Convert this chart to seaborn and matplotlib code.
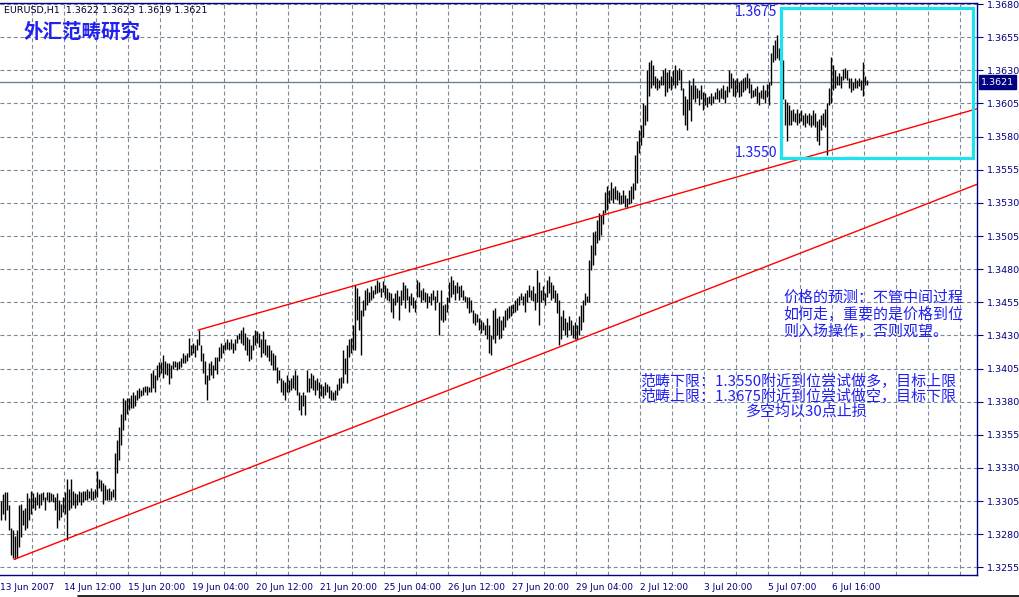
import numpy as np
import pandas as pd
import matplotlib
matplotlib.use("Agg")
import matplotlib.pyplot as plt
import seaborn as sns
from matplotlib.patches import Rectangle

# ---------------- data (prices in pips, 1 pip = 0.0001) ----------------
high_pips = [
    13305,13310,13312,13312,13302,13285,13283,13279,13283,13302,13303,13298,13300,13311,13307,13313,
    13311,13308,13312,13310,13311,13312,13308,13312,13312,13311,13310,13308,13311,13306,13303,13308,
    13312,13322,13314,13322,13313,13311,13310,13313,13312,13313,13313,13314,13313,13315,13313,13314,
    13328,13322,13321,13319,13317,13314,13315,13313,13314,13341,13351,13361,13371,13383,13381,13383,
    13383,13385,13387,13385,13389,13390,13389,13391,13392,13392,13391,13402,13404,13400,13408,13410,
    13410,13415,13411,13409,13409,13408,13411,13411,13410,13411,13413,13417,13415,13417,13428,13423,
    13424,13423,13427,13434,13423,13417,13411,13400,13409,13411,13408,13414,13414,13421,13424,13423,
    13425,13427,13425,13427,13424,13427,13430,13432,13434,13436,13432,13429,13427,13423,13430,13434,
    13433,13432,13427,13433,13427,13423,13423,13419,13417,13415,13406,13404,13398,13396,13395,13400,
    13396,13398,13400,13404,13400,13387,13385,13387,13385,13404,13398,13402,13400,13396,13398,13395,
    13393,13392,13395,13393,13392,13389,13387,13389,13393,13398,13399,13419,13413,13423,13427,13428,
    13438,13468,13466,13460,13449,13457,13464,13466,13463,13467,13464,13468,13472,13470,13466,13471,
    13468,13466,13463,13462,13458,13462,13464,13460,13464,13470,13468,13466,13460,13462,13459,13457,
    13472,13470,13464,13466,13463,13462,13460,13462,13464,13460,13464,13455,13464,13453,13454,13459,
    13470,13475,13472,13468,13470,13467,13468,13464,13460,13459,13459,13457,13449,13447,13446,13443,
    13442,13440,13438,13443,13438,13430,13449,13451,13443,13445,13442,13445,13449,13451,13452,13453,
    13454,13457,13458,13460,13462,13460,13462,13464,13468,13464,13467,13462,13479,13470,13464,13467,
    13462,13472,13475,13470,13468,13464,13462,13457,13445,13449,13443,13440,13445,13442,13438,13440,
    13438,13445,13453,13457,13462,13460,13487,13498,13508,13509,13517,13522,13521,13525,13538,13543,
    13540,13546,13541,13543,13540,13538,13536,13540,13536,13534,13540,13543,13545,13566,13577,13585,
    13589,13605,13604,13630,13636,13638,13634,13626,13624,13623,13626,13630,13632,13629,13630,13626,
    13630,13634,13630,13632,13630,13617,13611,13608,13623,13619,13624,13619,13617,13615,13619,13614,
    13613,13610,13611,13613,13611,13614,13617,13615,13617,13619,13615,13618,13630,13628,13624,13623,
    13624,13621,13623,13624,13625,13628,13624,13620,13615,13617,13618,13614,13615,13619,13615,13620,
    13621,13643,13649,13653,13657,13647,13645,13638,13608,13606,13604,13600,13601,13598,13601,13598,
    13600,13596,13598,13596,13598,13596,13600,13598,13592,13593,13596,13598,13601,13605,13617,13640,
    13634,13630,13626,13628,13626,13631,13632,13630,13624,13624,13621,13624,13623,13624,13623,13636,13626,13623,
]
low_pips = [
    13291,13295,13291,13298,13283,13264,13262,13261,13262,13270,13278,13287,13283,13285,13291,13295,
    13300,13298,13302,13300,13302,13306,13298,13306,13304,13305,13304,13298,13285,13291,13293,13297,
    13295,13276,13298,13300,13302,13300,13302,13304,13302,13304,13306,13306,13307,13306,13306,13307,
    13308,13315,13313,13303,13306,13306,13306,13306,13308,13306,13326,13336,13347,13359,13366,13371,
    13374,13375,13375,13377,13381,13383,13384,13385,13387,13385,13387,13387,13390,13387,13396,13399,
    13402,13398,13401,13400,13393,13398,13405,13406,13404,13405,13406,13409,13409,13411,13414,13415,
    13417,13414,13419,13423,13411,13402,13393,13381,13396,13400,13398,13404,13401,13411,13413,13417,
    13419,13420,13419,13420,13417,13419,13424,13427,13424,13423,13419,13415,13411,13412,13419,13423,
    13424,13421,13414,13417,13415,13414,13411,13408,13404,13404,13394,13396,13387,13385,13381,13387,
    13387,13389,13390,13389,13385,13374,13370,13377,13370,13387,13387,13390,13389,13385,13389,13383,
    13384,13383,13385,13387,13383,13381,13381,13381,13385,13389,13390,13394,13401,13394,13414,13417,
    13419,13419,13442,13434,13415,13445,13449,13453,13455,13457,13458,13461,13462,13463,13459,13463,
    13458,13457,13456,13448,13443,13453,13455,13442,13453,13457,13451,13457,13448,13453,13451,13448,
    13459,13459,13455,13457,13455,13451,13455,13453,13457,13449,13455,13430,13442,13440,13442,13448,
    13455,13459,13461,13457,13462,13457,13459,13457,13455,13451,13447,13448,13439,13438,13440,13434,
    13432,13434,13430,13427,13417,13415,13427,13424,13430,13427,13428,13434,13436,13442,13443,13445,
    13447,13448,13449,13453,13457,13453,13448,13455,13459,13457,13456,13449,13455,13438,13455,13457,
    13453,13459,13462,13457,13458,13455,13447,13423,13427,13434,13430,13429,13434,13430,13428,13427,
    13427,13430,13434,13440,13453,13455,13455,13479,13483,13491,13500,13502,13506,13514,13522,13525,
    13530,13532,13530,13533,13532,13529,13529,13530,13527,13526,13529,13530,13533,13540,13545,13568,
    13574,13580,13589,13592,13611,13617,13619,13617,13615,13617,13619,13619,13611,13614,13617,13615,
    13619,13617,13619,13623,13615,13596,13589,13585,13600,13592,13608,13606,13609,13604,13608,13600,
    13604,13602,13605,13604,13605,13608,13608,13606,13609,13608,13605,13610,13614,13617,13611,13610,
    13614,13610,13611,13614,13615,13617,13613,13609,13610,13611,13605,13604,13609,13608,13605,13610,
    13604,13619,13636,13638,13639,13638,13626,13608,13589,13577,13589,13589,13592,13591,13589,13590,
    13592,13589,13587,13590,13589,13587,13589,13587,13577,13574,13585,13589,13587,13566,13604,13605,
    13615,13617,13619,13619,13617,13623,13624,13623,13617,13614,13615,13617,13617,13618,13615,13611,13619,13619,
]

time_labels = ["13 Jun 2007", "14 Jun 12:00", "15 Jun 20:00", "19 Jun 04:00", "20 Jun 12:00",
               "21 Jun 20:00", "25 Jun 04:00", "26 Jun 12:00", "27 Jun 20:00", "29 Jun 04:00",
               "2 Jul 12:00", "3 Jul 20:00", "5 Jul 07:00", "6 Jul 16:00"]
price_ticks = [1.3255, 1.3280, 1.3305, 1.3330, 1.3355, 1.3380, 1.3405, 1.3430, 1.3455,
               1.3480, 1.3505, 1.3530, 1.3555, 1.3580, 1.3605, 1.3630, 1.3655, 1.3680]
last_price = 1.3621
header_quote = "EURUSD,H1  1.3622 1.3623 1.3619 1.3621"

# trend lines (bar index, price)
upper_x = [98.5, 488.0]
upper_y = [1.3434, 1.3601]
lower_x = [6.5, 488.0]
lower_y = [1.3261, 1.3544]

# range box (bar index, price)
box_x = [390.0, 486.0]
box_y = [1.3564, 1.3677]

title_cn = "外汇范畴研究"
note1 = ["价格的预测：不管中间过程", "如何走，重要的是价格到位", "则入场操作，否则观望。"]
note2 = ["范畴下限：1.3550附近到位尝试做多，目标上限", "范畴上限：1.3675附近到位尝试做空，目标下限"]
note3 = "多空均以30点止损"

# ---------------- figure ----------------
sns.set_style("white")
plt.rcParams["font.family"] = ["DejaVu Sans", "Noto Sans CJK SC"]

W, H = 1019, 597
fig = plt.figure(figsize=(W / 100, H / 100), dpi=100)
fig.patch.set_facecolor("white")
ax = fig.add_axes([0, 22 / H, 977 / W, 572 / H])
ax.set_facecolor("white")

df = pd.DataFrame({"idx": np.arange(len(high_pips)),
                   "high": np.array(high_pips) / 10000.0,
                   "low": np.array(low_pips) / 10000.0})

xmin, xmax = -0.5, 488.0
ymin, ymax = 1.324925, 1.36808
ax.set_xlim(xmin, xmax)
ax.set_ylim(ymin, ymax)

navy = "#000080"
gridc = "#7A8998"

# grid
for p in price_ticks:
    ax.axhline(p, color=gridc, lw=0.8, ls=(0, (3.5, 2.5)), zorder=0)
for k in range(1, 31):
    ax.axvline((32 * k - 1) / 2, color=gridc, lw=0.8, ls=(0, (3.5, 2.5)), zorder=0)

# current price line
ax.axhline(last_price, color="#708090", lw=1.0, zorder=1)

# bars
ax.vlines(df["idx"], df["low"], df["high"], colors="black", lw=1.0, zorder=3)

# trend lines via seaborn
tl = pd.DataFrame({"x": upper_x + lower_x, "y": upper_y + lower_y,
                   "line": ["upper", "upper", "lower", "lower"]})
sns.lineplot(data=tl, x="x", y="y", units="line", estimator=None, color="red",
             lw=1.0, ax=ax, zorder=4, legend=False)

# range box
ax.add_patch(Rectangle((box_x[0], box_y[0]), box_x[1] - box_x[0], box_y[1] - box_y[0],
                       fill=False, edgecolor="#1FE3EC", lw=2.3, zorder=5))

# axes styling
ax.set_xlabel("")
ax.set_ylabel("")
ax.spines["left"].set_visible(False)
for s in ["right", "bottom", "top"]:
    ax.spines[s].set_color(navy)
    ax.spines[s].set_linewidth(1.0)

ax.yaxis.tick_right()
ax.set_yticks(price_ticks)
ax.set_yticklabels([f"{p:.4f}" for p in price_ticks])
ax.tick_params(axis="y", direction="out", length=4, width=0.8, color=navy,
               labelcolor=navy, labelsize=6.8, pad=3, left=False, right=True)

xt = [(64 * k - 1) / 2 for k in range(len(time_labels))]
xt[0] = xmin
ax.set_xticks(xt)
ax.set_xticklabels(time_labels, ha="left")
ax.tick_params(axis="x", direction="out", length=4, width=0.8, color=navy,
               labelcolor=navy, labelsize=6.5, pad=2)

# last price tag
ax.text(1.004, last_price, f"{last_price:.4f}", transform=ax.get_yaxis_transform(),
        ha="left", va="center", color="white", fontsize=6.8,
        bbox=dict(boxstyle="square,pad=0.25", facecolor=navy, edgecolor=navy), zorder=6,
        clip_on=False)

# texts
def ftext(px, py, s, **kw):
    fig.text(px / W, 1 - py / H, s, **kw)

cjk = ["Noto Sans CJK SC", "DejaVu Sans"]
blue = "#2020F0"
ftext(4, 11, header_quote, fontsize=6.8, color="#000030", va="center", ha="left")
ftext(24, 32, title_cn, fontsize=14, color=blue, family=cjk, va="center", ha="left",
      fontweight="bold")
ftext(735, 12, "1.3675", fontsize=10, color=blue, family=cjk, va="center", ha="left")
ftext(735, 153, "1.3550", fontsize=10, color=blue, family=cjk, va="center", ha="left")
for i, line in enumerate(note1):
    ftext(783, 298 + 16.5 * i, line, fontsize=10.8, color=blue, family=cjk,
          va="center", ha="left")
for i, line in enumerate(note2):
    ftext(640, 381 + 15.5 * i, line, fontsize=10.8, color=blue, family=cjk,
          va="center", ha="left")
ftext(746, 411, note3, fontsize=10.8, color=blue, family=cjk, va="center", ha="left")

# window bottom border
fig.add_artist(plt.Line2D([78 / W, 1], [1.5 / H, 1.5 / H], color="black", lw=1.2))

fig.savefig("out.png", dpi=100, facecolor="white")
